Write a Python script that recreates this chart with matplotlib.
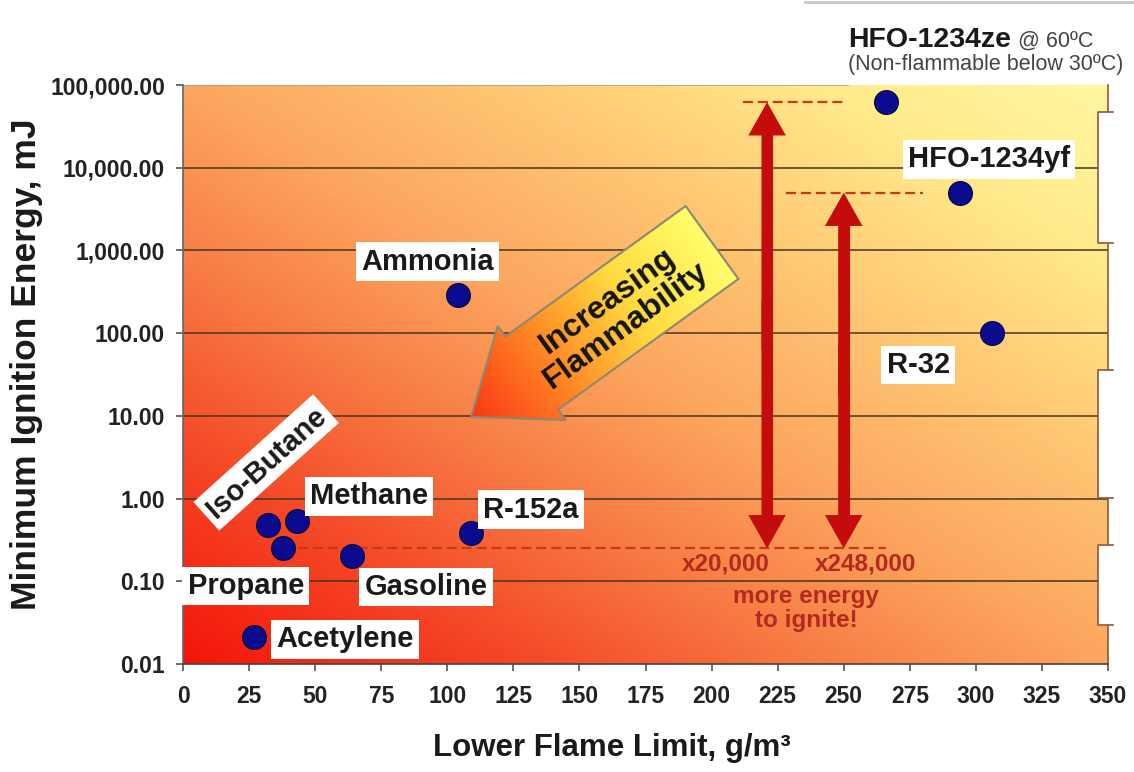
import numpy as np
import matplotlib.pyplot as plt
from matplotlib.colors import LinearSegmentedColormap
from matplotlib.patches import Polygon, FancyArrowPatch, Rectangle, ArrowStyle
from matplotlib.lines import Line2D

plt.rcParams['font.family'] = ['Liberation Sans', 'DejaVu Sans']

# refrigerants / fuels: lower flame limit (g/m3) and minimum ignition energy (mJ)
names = ['HFO-1234yf', 'R-32', 'Ammonia', 'R-152a', 'Iso-Butane',
         'Methane', 'Propane', 'Gasoline', 'Acetylene']
lfl = [294, 306, 104, 109, 32, 43, 38, 64, 27]
mie = [5000, 100, 290, 0.38, 0.48, 0.53, 0.25, 0.20, 0.021]

ze_name = 'HFO-1234ze'
ze_lfl = 266
ze_mie = 62000

# reference level (propane) and the two "times more energy" arrows
ref_mie = 0.25
arrow_x = [221, 250]
arrow_top = [62000, 5000]
arrow_text = ['x20,000', 'x248,000']

xticks = list(range(0, 351, 25))
yticks = [0.01, 0.1, 1, 10, 100, 1000, 10000, 100000]

# label offsets from each point (points) and rotation
label_off = {'HFO-1234yf': (21, 24), 'R-32': (-53, -23), 'Ammonia': (-22, 24),
             'R-152a': (43, 17), 'Iso-Butane': (-1, 45), 'Methane': (52, 18),
             'Propane': (-27, -27), 'Gasoline': (53, -22), 'Acetylene': (65, -1.5)}
label_rot = {'Iso-Butane': 42}

W, H = 1134, 772
L, R, T, B = 183, 1108, 85, 664
pos = [L / W, 1 - B / H, (R - L) / W, (B - T) / H]

fig = plt.figure(figsize=(W / 100, H / 100), dpi=100)

# background gradient, red bottom-left -> yellow top-right
bg_cmap = LinearSegmentedColormap.from_list('bg', [
    (0.0, (0.96, 0.08, 0.04)), (0.2, (0.96, 0.30, 0.16)), (0.35, (0.97, 0.49, 0.27)),
    (0.5, (0.99, 0.65, 0.37)), (0.7, (1.0, 0.80, 0.47)), (0.85, (1.0, 0.92, 0.55)),
    (1.0, (1.0, 0.97, 0.63))])
bg = fig.add_axes(pos, zorder=0)
gx, gy = np.meshgrid(np.linspace(0, 1, 500), np.linspace(0, 1, 300))
bg.imshow(bg_cmap(np.clip(0.5 * (gx + gy), 0, 1)), extent=(0, 1, 0, 1),
          origin='lower', aspect='auto')
bg.set_xlim(0, 1)
bg.set_ylim(0, 1)
bg.axis('off')

ax = fig.add_axes(pos, zorder=1)
ax.set_facecolor('none')
ax.set_yscale('log')
ax.set_xlim(0, 350)
ax.set_ylim(0.01, 100000)

for v in yticks[1:-1]:
    ax.axhline(v, color='#45361e', lw=1.1, zorder=1)
ax.axhline(100000, xmin=0, xmax=(848 - L) / (R - L), color='#a8a294', lw=1.2, zorder=1)

ax.set_xticks(xticks, [str(v) for v in xticks], fontweight='bold', fontsize=16.5, color='#222222')
ax.set_yticks(yticks, [f'{v:,.2f}' for v in yticks], fontweight='bold', fontsize=16.5, color='#222222')
ax.minorticks_off()
ax.tick_params(axis='both', direction='out', length=5, width=1.2, color='#555555')
ax.tick_params(axis='x', pad=10)
ax.tick_params(axis='y', pad=8)
ax.spines['top'].set_visible(False)
ax.spines['right'].set_color('#8b5a3c')
ax.spines['left'].set_color('#666666')
ax.spines['bottom'].set_color('#444444')
for s in ['right', 'left', 'bottom']:
    ax.spines[s].set_linewidth(1.2)

# dashed reference lines
dash_col = '#c8381a'
ax.plot([38, ze_lfl], [ref_mie, ref_mie], ls=(0, (4.5, 2.2)), color=dash_col, lw=1.6, zorder=2)
ax.plot([212, 250], [arrow_top[0], arrow_top[0]], ls=(0, (4.5, 2.2)), color=dash_col, lw=1.6, zorder=2)
ax.plot([228, 280], [arrow_top[1], arrow_top[1]], ls=(0, (4.5, 2.2)), color=dash_col, lw=1.6, zorder=2)

# double red arrows: one shaft plus a head at each end
red = '#c40c0c'
style = ArrowStyle('Simple', head_length=24, head_width=27, tail_width=8)
for x, top in zip(arrow_x, arrow_top):
    mid = np.sqrt(top * ref_mie)
    ax.plot([x, x], [ref_mie * 2.4, top / 2.4], color=red, lw=8, solid_capstyle='butt', zorder=3)
    for start, end in [(mid / 2, top), (mid * 2, ref_mie)]:
        ax.add_patch(FancyArrowPatch((x, start), (x, end), arrowstyle=style, mutation_scale=1,
                                     shrinkA=0, shrinkB=0, color=red, lw=0, zorder=3))

txt_col = '#b52a1e'
ax.annotate(arrow_text[0], (arrow_x[0], ref_mie), xytext=(-30, -11.5), textcoords='offset points',
            ha='center', va='center', fontsize=17.5, fontweight='bold', color=txt_col)
ax.annotate(arrow_text[1], (arrow_x[1], ref_mie), xytext=(16, -11.5), textcoords='offset points',
            ha='center', va='center', fontsize=17.5, fontweight='bold', color=txt_col)
ax.annotate('more energy\nto ignite!', (arrow_x[1], ref_mie), xytext=(-27, -43),
            textcoords='offset points', ha='center', va='center', fontsize=17.5,
            fontweight='bold', color=txt_col, linespacing=1.05)

# points
ax.scatter(lfl + [ze_lfl], mie + [ze_mie], s=290, c='#0b0b8f', edgecolors='#05054a',
           linewidths=1, zorder=5)

for name, x, y in zip(names, lfl, mie):
    ax.annotate(name, (x, y), xytext=label_off[name], textcoords='offset points',
                ha='center', va='center', fontsize=21, fontweight='bold', color='#1a1a1a',
                rotation=label_rot.get(name, 0), zorder=6,
                bbox=dict(boxstyle='square,pad=0.18', fc='white', ec='none'))

ax.annotate(ze_name, (ze_lfl, ze_mie), xytext=(-27, 45), textcoords='offset points',
            ha='left', va='center', fontsize=20.5, fontweight='bold', color='#1a1a1a',
            annotation_clip=False)
ax.annotate('@ 60ºC', (ze_lfl, ze_mie), xytext=(95, 44), textcoords='offset points',
            ha='left', va='center', fontsize=15.5, color='#444444', annotation_clip=False)
ax.annotate('(Non-flammable below 30ºC)', (ze_lfl, ze_mie), xytext=(-27, 27),
            textcoords='offset points', ha='left', va='center', fontsize=15.5,
            color='#444444', annotation_clip=False)

# big "Increasing Flammability" arrow, drawn in pixel units on an overlay
ov = fig.add_axes(pos, zorder=2)
ov.axis('off')
tip = np.array([471.0, 417.0])
tail = np.array([712.0, 242.5])
u = (tail - tip) / np.linalg.norm(tail - tip)
n = np.array([-u[1], u[0]])
base = tip + u * 75
pts = [tip, base + n * 58, base + n * 45, tail + n * 45, tail - n * 45, base - n * 45, base - n * 58]
poly = Polygon(pts, closed=True, fc='none', ec='none')
ov.add_patch(poly)

ar_cmap = LinearSegmentedColormap.from_list('ar', [
    (0.0, (0.98, 0.22, 0.08)), (0.35, (1.0, 0.55, 0.15)), (0.65, (1.0, 0.85, 0.25)),
    (1.0, (1.0, 1.0, 0.42))])
x0, x1, y0, y1 = 440, 760, 190, 440
px, py = np.meshgrid(np.arange(x0, x1), np.arange(y0, y1))
tt = ((px - tip[0]) * u[0] + (py - tip[1]) * u[1]) / np.linalg.norm(tail - tip)
im = ov.imshow(ar_cmap(np.clip(tt, 0, 1)), extent=(x0, x1, y1, y0), origin='upper', aspect='auto')
im.set_clip_path(poly)
ov.add_patch(Polygon(pts, closed=True, fill=False, ec='#8a8a74', lw=1.5))
ang = np.degrees(np.arctan2(-u[1], u[0]))
ov.text(617, 313, 'Increasing\nFlammability', rotation=ang, rotation_mode='anchor',
        ha='center', va='center', fontsize=23, fontweight='bold', color='#151515',
        linespacing=1.0)
ov.set_xlim(L, R)
ov.set_ylim(B, T)

# axis titles
fig.text(612 / W, 1 - 748 / H, 'Lower Flame Limit, g/m³', ha='center', va='center',
         fontsize=22.5, fontweight='bold', color='#1a1a1a')
fig.text(27 / W, 1 - 364 / H, 'Minimum Ignition Energy, mJ', ha='center', va='center',
         rotation=90, fontsize=25.5, fontweight='bold', color='#1a1a1a')

# notched right border and the top-right frame line
for ya, yb in [(112, 243), (370, 498), (545, 625)]:
    fig.add_artist(Rectangle((1098 / W, 1 - yb / H), 36 / W, (yb - ya) / H,
                             transform=fig.transFigure, fc='white', ec='none', zorder=10))
    fig.add_artist(Line2D([1113 / W, 1097.5 / W, 1097.5 / W, 1113 / W],
                          [1 - ya / H, 1 - ya / H, 1 - yb / H, 1 - yb / H],
                          transform=fig.transFigure, color='#8b5a3c', lw=1.2, zorder=11))
fig.add_artist(Line2D([805 / W, 1], [1 - 1.5 / H, 1 - 1.5 / H], transform=fig.transFigure,
                      color='#c8c8c8', lw=2, zorder=11))

fig.savefig('out.png', dpi=100)
